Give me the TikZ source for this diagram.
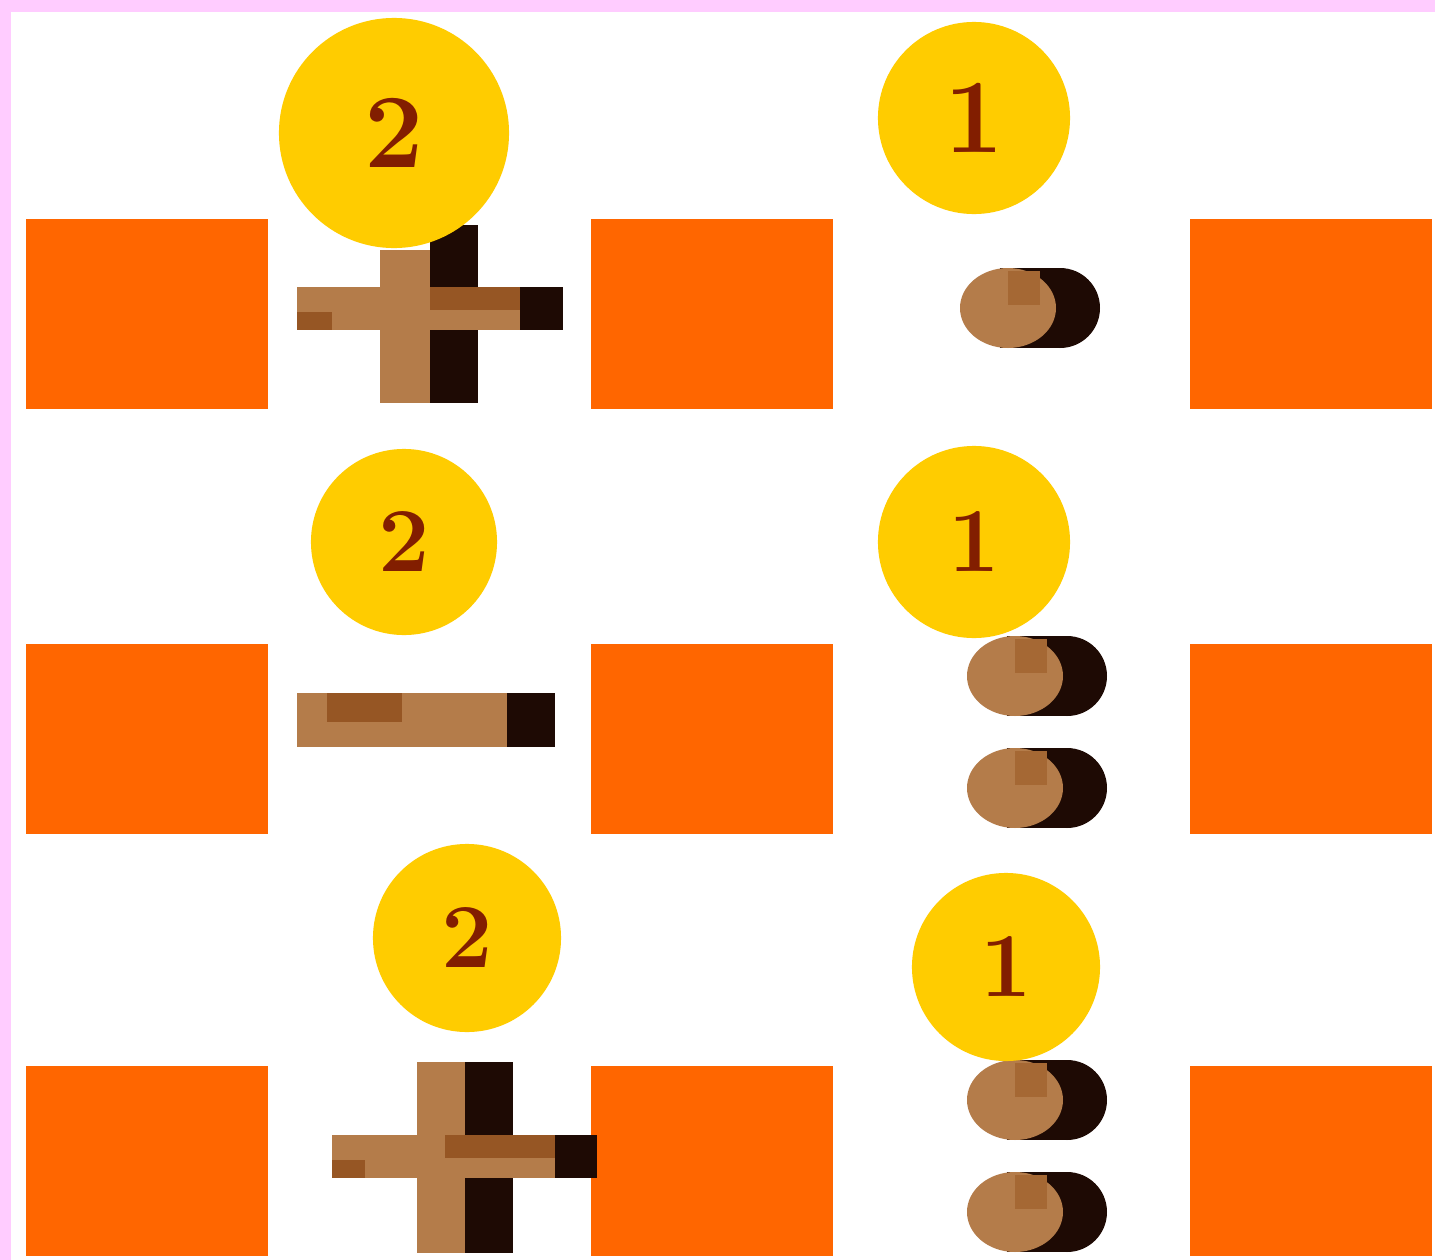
\documentclass[tikz,border=0pt]{standalone}
\usepackage{tikz}
\usetikzlibrary{positioning}
\definecolor{FramePink}{RGB}{255, 204, 255}
\definecolor{BoxOrange}{RGB}{255, 102, 0}
\definecolor{CoinYellow}{RGB}{255, 204, 0}
\definecolor{DigitRed}{RGB}{130, 30, 0}
\definecolor{WoodLight}{RGB}{180, 124, 74}
\definecolor{WoodMid}{RGB}{150, 86, 36}
\definecolor{WoodTan}{RGB}{165, 104, 52}
\definecolor{WoodDark}{RGB}{30, 10, 4}

\begin{document}
\begin{tikzpicture}[
  x=0.01cm, y=-0.01cm,
  box/.style={fill=BoxOrange, minimum width=2.42cm, minimum height=1.9cm, inner sep=0pt},
  coin/.style={circle, fill=CoinYellow, inner sep=0pt,
    font=\fontsize{26}{30}\selectfont\bfseries\color{DigitRed}},
  bigcoin/.style={coin, font=\fontsize{30}{34}\selectfont\bfseries\color{DigitRed}}
]
\useasboundingbox (0,0) rectangle (1435,1260);
% Frame
\fill[FramePink] (0,0) rectangle (1435,1260);
\fill[white] (11,12) rectangle (1435,1260);

% Orange boxes, three rows
\node[box] (r1a) at (147,314)  {};
\node[box] (r1b) at (712,314)  {};
\node[box] (r1c) at (1311,314) {};
\node[box] (r2a) at (147,739)  {};
\node[box] (r2b) at (712,739)  {};
\node[box] (r2c) at (1311,739) {};
\node[box] (r3a) at (147,1161) {};
\node[box] (r3b) at (712,1161) {};
\node[box] (r3c) at (1311,1161) {};

% Row 1 - plus
\fill[WoodLight] (380,250) rectangle (430,403);
\fill[WoodDark]  (430,225) rectangle (478,403);
\fill[WoodLight] (297,287) rectangle (563,330);
\fill[WoodMid]   (297,312) rectangle (332,330);
\fill[WoodMid]   (430,287) rectangle (520,310);
\fill[WoodDark]  (520,287) rectangle (563,330);

% Row 2 - minus
\fill[WoodLight] (297,693) rectangle (555,747);
\fill[WoodMid]   (327,693) rectangle (402,722);
\fill[WoodDark]  (507,693) rectangle (555,747);

% Row 3 - plus
\fill[WoodLight] (417,1062) rectangle (465,1253);
\fill[WoodDark]  (465,1062) rectangle (513,1253);
\fill[WoodLight] (332,1135) rectangle (597,1178);
\fill[WoodMid]   (332,1160) rectangle (365,1178);
\fill[WoodMid]   (445,1135) rectangle (555,1158);
\fill[WoodDark]  (555,1135) rectangle (597,1178);

% Dots
\foreach \dx/\dy in {960/308, 967/676, 967/788, 967/1100, 967/1212} {
  \fill[WoodDark]  (\dx+40,\dy-40) rectangle (\dx+100,\dy+40);
  \fill[WoodDark]  (\dx+100,\dy) circle [radius=40];
  \fill[WoodLight] (\dx+48,\dy) ellipse [x radius=48, y radius=40];
  \fill[WoodTan]   (\dx+48,\dy-37) rectangle (\dx+80,\dy-3);
}

% Coins
\node[bigcoin, minimum size=2.3cm]  (k2a) at (394,133)  {2};
\node[bigcoin, minimum size=1.92cm] (k1a) at (974,118)  {1};
\node[coin, minimum size=1.86cm]    (k2b) at (404,542)  {2};
\node[coin, minimum size=1.92cm]    (k1b) at (974,542)  {1};
\node[coin, minimum size=1.88cm]    (k2c) at (467,938)  {2};
\node[coin, minimum size=1.88cm]    (k1c) at (1006,967) {1};
\end{tikzpicture}
\end{document}
